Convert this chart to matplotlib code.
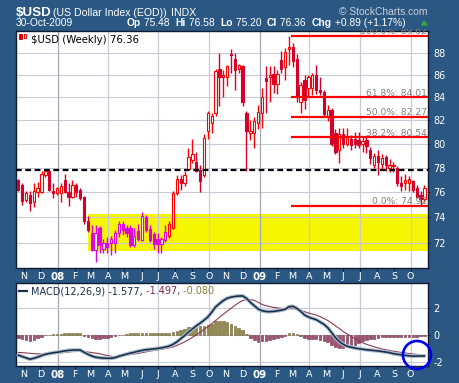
#!/usr/bin/python
import numpy as np
import pandas as pd
import matplotlib
matplotlib.use('Agg')
import matplotlib.pyplot as plt
import matplotlib.dates as mdates
from matplotlib.patches import Ellipse, Rectangle, Polygon
from matplotlib.text import Annotation
from matplotlib.transforms import Bbox, TransformedBbox
#-----------------------------------------------------------------------------
# $USD weekly bars
weeks = pd.date_range('2007-10-22', periods=106, freq='7D')
opens = [77.0, 76.6, 75.4, 75.8, 75.2, 76.0, 76.0, 77.4, 77.7, 76.1,
         75.95, 75.9, 77.0, 76.0, 75.6, 76.6, 76.2, 75.6, 73.7, 72.8,
         71.5, 73.2, 71.6, 72.0, 72.0, 72.0, 72.8, 73.5, 73.2, 73.2,
         71.9, 72.95, 72.25, 74.05, 73.1, 72.7, 72.3, 71.95, 72.25, 72.55,
         73.2, 75.95, 77.1, 76.7, 77.9, 78.6, 78.45, 77.8, 77.4, 81.1,
         81.8, 82.6, 86.6, 85.8, 85.8, 87.9, 87.5, 86.6, 86.8, 82.6,
         80.9, 80.9, 81.75, 82.6, 85.7, 85.8, 86.1, 85.2, 87.4, 86.75,
         88.45, 88.6, 87.5, 83.6, 85.6, 84.8, 84.8, 86.0, 84.7, 84.5,
         82.4, 82.9, 80.9, 79.5, 80.8, 80.0, 80.4, 80.4, 80.3, 80.0,
         80.3, 79.5, 78.25, 78.95, 78.3, 78.9, 78.0, 78.1, 78.0, 76.7,
         76.7, 76.7, 76.9, 76.3, 75.8, 75.48]
highs = [77.1, 76.7, 76.1, 76.1, 76.7, 76.8, 77.7, 77.9, 77.8, 76.7,
         76.4, 76.7, 77.5, 76.7, 77.0, 76.7, 76.3, 75.7, 74.1, 73.4,
         73.4, 73.3, 72.3, 72.5, 72.55, 73.0, 73.7, 73.7, 73.4, 73.4,
         73.2, 73.5, 74.4, 74.2, 73.4, 72.9, 72.8, 72.5, 73.4, 73.7,
         76.1, 77.4, 77.4, 77.7, 79.6, 80.4, 79.3, 78.2, 80.8, 82.8,
         82.6, 86.6, 88.0, 86.5, 86.9, 88.45, 88.0, 87.0, 86.9, 82.8,
         82.0, 82.3, 83.35, 84.8, 86.8, 86.8, 86.8, 86.5, 88.2, 88.5,
         89.62, 89.0, 87.9, 85.4, 86.0, 86.0, 86.2, 86.9, 85.8, 84.7,
         83.3, 83.1, 81.2, 81.3, 81.3, 81.3, 80.7, 81.0, 80.95, 80.6,
         80.6, 79.7, 79.2, 79.45, 79.1, 79.0, 78.7, 78.5, 78.1, 77.3,
         77.5, 77.3, 77.0, 76.6, 76.1, 76.58]
lows = [76.1, 75.0, 75.2, 74.5, 74.8, 75.6, 75.9, 77.2, 76.1, 75.5,
        75.8, 75.2, 75.9, 74.9, 75.5, 75.6, 75.4, 73.5, 72.9, 71.4,
        70.6, 71.3, 71.3, 71.3, 71.1, 71.3, 72.5, 72.6, 72.5, 71.7,
        71.7, 72.2, 72.2, 72.9, 72.1, 71.55, 71.3, 71.3, 72.1, 72.4,
        73.1, 75.8, 76.2, 76.5, 77.8, 78.4, 77.6, 76.0, 77.2, 80.4,
        80.9, 82.4, 83.2, 84.0, 85.0, 86.2, 84.7, 86.2, 83.25, 77.7,
        80.3, 79.6, 81.2, 81.3, 82.6, 83.6, 84.4, 84.3, 86.2, 85.6,
        86.9, 86.7, 83.6, 82.6, 83.0, 84.0, 84.2, 84.3, 84.2, 82.3,
        81.9, 79.8, 79.1, 78.4, 79.6, 79.8, 79.45, 79.6, 79.6, 79.3,
        79.2, 78.3, 78.0, 77.4, 77.8, 77.7, 77.6, 77.6, 76.5, 76.1,
        76.2, 76.1, 76.0, 75.5, 74.92, 75.20]
closes = [76.2, 75.3, 75.9, 75.1, 76.1, 76.3, 77.5, 77.7, 76.2, 75.9,
          76.3, 76.5, 76.0, 75.6, 76.6, 76.0, 75.5, 73.7, 73.0, 71.5,
          72.8, 71.9, 72.0, 71.7, 72.3, 72.8, 73.5, 73.0, 72.8, 71.9,
          72.55, 72.3, 74.1, 73.0, 72.25, 71.95, 71.95, 72.3, 72.9, 73.5,
          75.95, 77.1, 76.7, 77.4, 78.9, 79.1, 77.7, 76.9, 80.5, 82.6,
          82.4, 86.4, 85.8, 86.0, 86.8, 87.8, 86.5, 86.9, 83.6, 81.1,
          81.1, 81.95, 82.7, 84.0, 85.5, 86.0, 85.2, 86.1, 86.6, 88.1,
          88.6, 87.3, 84.1, 85.1, 83.8, 85.8, 86.0, 84.7, 84.5, 82.5,
          82.9, 80.0, 79.3, 80.8, 80.0, 80.6, 79.9, 80.0, 79.9, 80.2,
          79.8, 78.8, 78.95, 78.45, 78.8, 78.2, 78.25, 78.2, 76.7, 76.5,
          77.0, 77.1, 76.2, 75.6, 75.47, 76.36]

# MACD(12,26,9) line and signal line, one value per bar
macd_line = [-1.52, -1.62, -1.72, -1.82, -1.75, -1.66, -1.55, -1.45, -1.39, -1.34,
             -1.30, -1.25, -1.20, -1.16, -1.14, -1.13, -1.13, -1.30, -1.45, -1.58,
             -1.67, -1.71, -1.74, -1.75, -1.75, -1.70, -1.60, -1.52, -1.44, -1.36,
             -1.30, -1.22, -1.16, -1.11, -1.08, -1.05, -1.01, -0.97, -0.91, -0.84,
             -0.70, -0.52, -0.28, -0.05, 0.22, 0.45, 0.68, 0.88, 1.10, 1.35,
             1.70, 2.10, 2.35, 2.58, 2.75, 2.84, 2.89, 2.92, 2.93, 2.75,
             2.45, 2.20, 1.95, 1.82, 1.76, 1.75, 1.77, 1.81, 1.86, 1.93,
             2.12, 2.15, 2.00, 1.78, 1.50, 1.35, 1.24, 1.15, 0.98, 0.80,
             0.55, 0.18, -0.20, -0.50, -0.70, -0.85, -0.92, -0.98, -1.03, -1.07,
             -1.11, -1.14, -1.17, -1.20, -1.24, -1.28, -1.33, -1.40, -1.45, -1.49,
             -1.53, -1.57, -1.59, -1.59, -1.58, -1.577]
signal_line = [-1.31, -1.33, -1.35, -1.38, -1.40, -1.42, -1.43, -1.42, -1.41, -1.39,
               -1.38, -1.35, -1.31, -1.28, -1.25, -1.24, -1.24, -1.25, -1.28, -1.32,
               -1.36, -1.40, -1.48, -1.55, -1.60, -1.63, -1.61, -1.55, -1.50, -1.47,
               -1.43, -1.39, -1.33, -1.27, -1.21, -1.17, -1.12, -1.08, -1.03, -0.97,
               -0.90, -0.79, -0.66, -0.52, -0.35, -0.18, 0.00, 0.20, 0.40, 0.62,
               0.85, 1.08, 1.32, 1.55, 1.78, 2.00, 2.22, 2.42, 2.58, 2.66,
               2.66, 2.60, 2.45, 2.30, 2.20, 2.13, 2.07, 2.03, 2.00, 1.98,
               1.97, 1.97, 1.93, 1.85, 1.75, 1.65, 1.57, 1.49, 1.38, 1.24,
               1.09, 0.90, 0.68, 0.48, 0.26, 0.07, -0.10, -0.26, -0.43, -0.58,
               -0.70, -0.80, -0.89, -0.97, -1.05, -1.11, -1.17, -1.22, -1.27, -1.31,
               -1.35, -1.39, -1.43, -1.46, -1.48, -1.497]

# annotations drawn on the chart
zone_start = '2008-02-25'
zone_lo, zone_hi = 71.4, 74.26
magenta_from, magenta_to = '2008-03-01', '2008-07-15'
support = 77.8
fib_names = ['100.0%', '61.8%', '50.0%', '38.2%', '0.0%']
fib_levels = [89.62, 84.01, 82.27, 80.54, 74.92]
fib_from = '2009-02-26'
price_ticks = [72, 74, 76, 78, 80, 82, 84, 86, 88]
macd_ticks = [2, 0, -2]
macd_labels = ['2', '0', '-2']
month_names = ['N', 'D', '08', 'F', 'M', 'A', 'M', 'J', 'J', 'A', 'S', 'O',
               'N', 'D', '09', 'F', 'M', 'A', 'M', 'J', 'J', 'A', 'S', 'O']
quote = [('Op', True), (' 75.48  ', False), ('Hi', True), (' 76.58  ', False),
         ('Lo', True), (' 75.20  ', False), ('Cl', True), (' 76.36  ', False),
         ('Chg', True), (' +0.89 (+1.17%)', False)]
#-----------------------------------------------------------------------------
BG = '#2b5882'
W, H = 460., 383.
def fx(p): return p / W
def fy(p): return 1 - p / H

fig = plt.figure(figsize=(4.6, 3.83), dpi=100, facecolor=BG)
ax = fig.add_axes([fx(16), fy(268), fx(428) - fx(16), fy(31) - fy(268)])
mx = fig.add_axes([fx(16), fy(366), fx(428) - fx(16), fy(283) - fy(366)], sharex=ax)

x = mdates.date2num(weeks)
o, h, l, c = map(np.array, (opens, highs, lows, closes))
xlim = (mdates.date2num(pd.Timestamp('2007-10-17 20:00')),
        mdates.date2num(pd.Timestamp('2009-11-01 12:00')))

#------------------------------------------------------------------- price panel
ax.set_yscale('log')
ax.set_ylim(70.15, 90.1)
ax.set_xlim(*xlim)
ax.fill_between([mdates.date2num(pd.Timestamp(zone_start)), xlim[1] + 30],
                zone_lo, zone_hi, color='#f6f600', lw=0, zorder=0.5)
for v in price_ticks:
    ax.axhline(v, color='#c9c9d8', lw=0.8, zorder=1)

quarters = pd.date_range('2008-01-01', '2009-10-01', freq='QS')
for axis in (ax, mx):
    for q in quarters:
        axis.axvline(mdates.date2num(q), lw=0.9, zorder=1,
                     color='#a4a8b6' if q.month == 1 else '#c9c9d8')

mag = (weeks >= magenta_from) & (weeks <= magenta_to)
up = c >= o
edge = np.where(mag, '#e000e0', np.where(up, '#ff0000', '#d4002c'))
face = np.where(up, 'white', edge)
ax.vlines(x, l, h, colors=edge, lw=1.0, zorder=3)
ax.bar(x, np.maximum(np.abs(c - o), 0.04), bottom=np.minimum(o, c), width=4.2,
       color=face, edgecolor=edge, lw=0.8, zorder=4)

ax.axhline(support, color='black', lw=1.6, ls=(0, (2.6, 1.6)), zorder=6)
x_fib = mdates.date2num(pd.Timestamp(fib_from))
clip = TransformedBbox(Bbox([[0, 0], [1, 1.01]]), ax.transAxes)
for name, lev in zip(fib_names, fib_levels):
    ax.plot([x_fib, xlim[1] + 30], [lev, lev], color='#ff0000', lw=1.6, zorder=6,
            solid_capstyle='butt')
    t = ax.annotate('%s: %.2f' % (name, lev), xy=(1, lev),
                    xycoords=('axes fraction', 'data'), xytext=(-1, 1.6),
                    textcoords='offset pixels', ha='right', va='baseline',
                    color='#808080', fontsize=6.6, zorder=7, annotation_clip=False)
    t.set_clip_box(clip)
    t.set_clip_on(True)

ax.yaxis.tick_right()
ax.set_yticks(price_ticks)
ax.set_yticklabels([str(v) for v in price_ticks])
ax.yaxis.set_minor_locator(matplotlib.ticker.NullLocator())

months = pd.date_range('2007-11-01', periods=24, freq='MS')
for axis in (ax, mx):
    axis.set_xticks(mdates.date2num(months))
    axis.set_xticklabels(month_names)
    axis.tick_params(axis='x', labelbottom=True, colors='#102040', labelcolor='white',
                     labelsize=6.8, length=2, pad=1.2)
    axis.tick_params(axis='y', colors='#102040', labelcolor='white', labelsize=7,
                     length=1.5, pad=2.5, right=True, left=False)
    for s in axis.spines.values():
        s.set_color('#0c1c34')
        s.set_linewidth(1.0)
    for tl in axis.get_xticklabels():
        if tl.get_text() in ('08', '09'):
            tl.set_fontweight('bold')
            tl.set_fontsize(7.4)

# legend of the price panel: small candle icon and the name
for px0, py0, pw, ph, filled in [(19.5, 34.5, 2.2, 4.0, True), (23.5, 33.5, 2.2, 4.5, False)]:
    fig.patches.append(Rectangle((fx(px0), fy(py0 + ph)), fx(pw), ph / H,
                                 transform=fig.transFigure,
                                 facecolor='#e00000' if filled else 'white',
                                 edgecolor='#e00000', lw=0.7, zorder=10))
ax.text(0.037, 0.963, '$USD (Weekly) 76.36', transform=ax.transAxes, fontsize=7.3,
        color='black', va='center', ha='left', zorder=8)

#-------------------------------------------------------------------- MACD panel
macd = np.array(macd_line)
signal = np.array(signal_line)
hist = macd - signal

mx.set_ylim(-2.33, 3.9)
for v in macd_ticks:
    mx.axhline(v, color='#c9c9d8', lw=0.8, zorder=1)
mx.bar(x, hist, width=4.6, color=np.where(hist >= 0, '#948a4c', '#a0506f'),
       edgecolor=np.where(hist >= 0, '#6a6230', '#703048'), lw=0.4, zorder=2)
mx.plot(x, signal, color='#8e3a55', lw=0.8, zorder=3)
mx.plot(x, macd, color='#aec2d2', lw=2.8, zorder=4, solid_capstyle='round')
mx.plot(x, macd, color='#1c2f48', lw=1.2, zorder=5)
mx.yaxis.tick_right()
mx.set_yticks(macd_ticks)
mx.set_yticklabels(macd_labels)

mx.plot([0.007, 0.027], [0.9, 0.9], transform=mx.transAxes, color='#1c2f48', lw=1.6, zorder=8)
t1 = mx.text(0.037, 0.9, 'MACD(12,26,9) -1.577,', transform=mx.transAxes, fontsize=7,
             color='#1c2f48', va='center', ha='left', zorder=8)
t2 = mx.annotate(' -1.497,', xy=(1, 0.5), xycoords=t1, va='center', ha='left',
                 fontsize=7, color='#7a2b48', zorder=8)
t3 = mx.annotate(' -0.080', xy=(1, 0.5), xycoords=t2, va='center', ha='left',
                 fontsize=7, color='#8a7e3c', zorder=8)

#------------------------------------------------------------------------ header
fig.text(fx(16), fy(15.5), '$USD', color='white', fontsize=9.6, fontweight='bold',
         family='Liberation Sans', va='baseline')
fig.text(fx(53), fy(15.5), '(US Dollar Index (EOD))', color='white', fontsize=7.6,
         family='Liberation Sans', va='baseline')
fig.text(fx(171.5), fy(15.5), 'INDX', color='white', fontsize=7.6,
         family='Liberation Sans', va='baseline')
fig.text(fx(428), fy(15), '\u00a9 StockCharts.com', color='#c8d0da', fontsize=7.4,
         family='Liberation Sans', ha='right', va='baseline')
fig.text(fx(16), fy(26.3), '30-Oct-2009', color='white', fontsize=7.4,
         family='Liberation Sans', va='baseline')
prev = fig.text(fx(127), fy(26.3), quote[0][0], color='white', fontsize=7.4,
                family='Liberation Sans', fontweight='bold', va='baseline')
for txt, bold in quote[1:]:
    prev = fig.add_artist(Annotation(txt, xy=(1, 0), xycoords=prev, color='white',
                                     fontsize=7.4, family='Liberation Sans',
                                     fontweight='bold' if bold else 'normal',
                                     va='bottom', ha='left'))
fig.patches.append(Polygon([[fx(421.5), fy(25)], [fx(427), fy(25)], [fx(424.2), fy(21)]],
                           closed=True, transform=fig.transFigure, color='#3fa040', zorder=10))

# circle round the last MACD readings
fig.patches.append(Ellipse((fx(417), fy(355)), 28 / W, 28 / H, transform=fig.transFigure,
                           fill=False, edgecolor='#0000f0', lw=1.9, zorder=20))

fig.savefig('out.png', dpi=100, facecolor=BG)
